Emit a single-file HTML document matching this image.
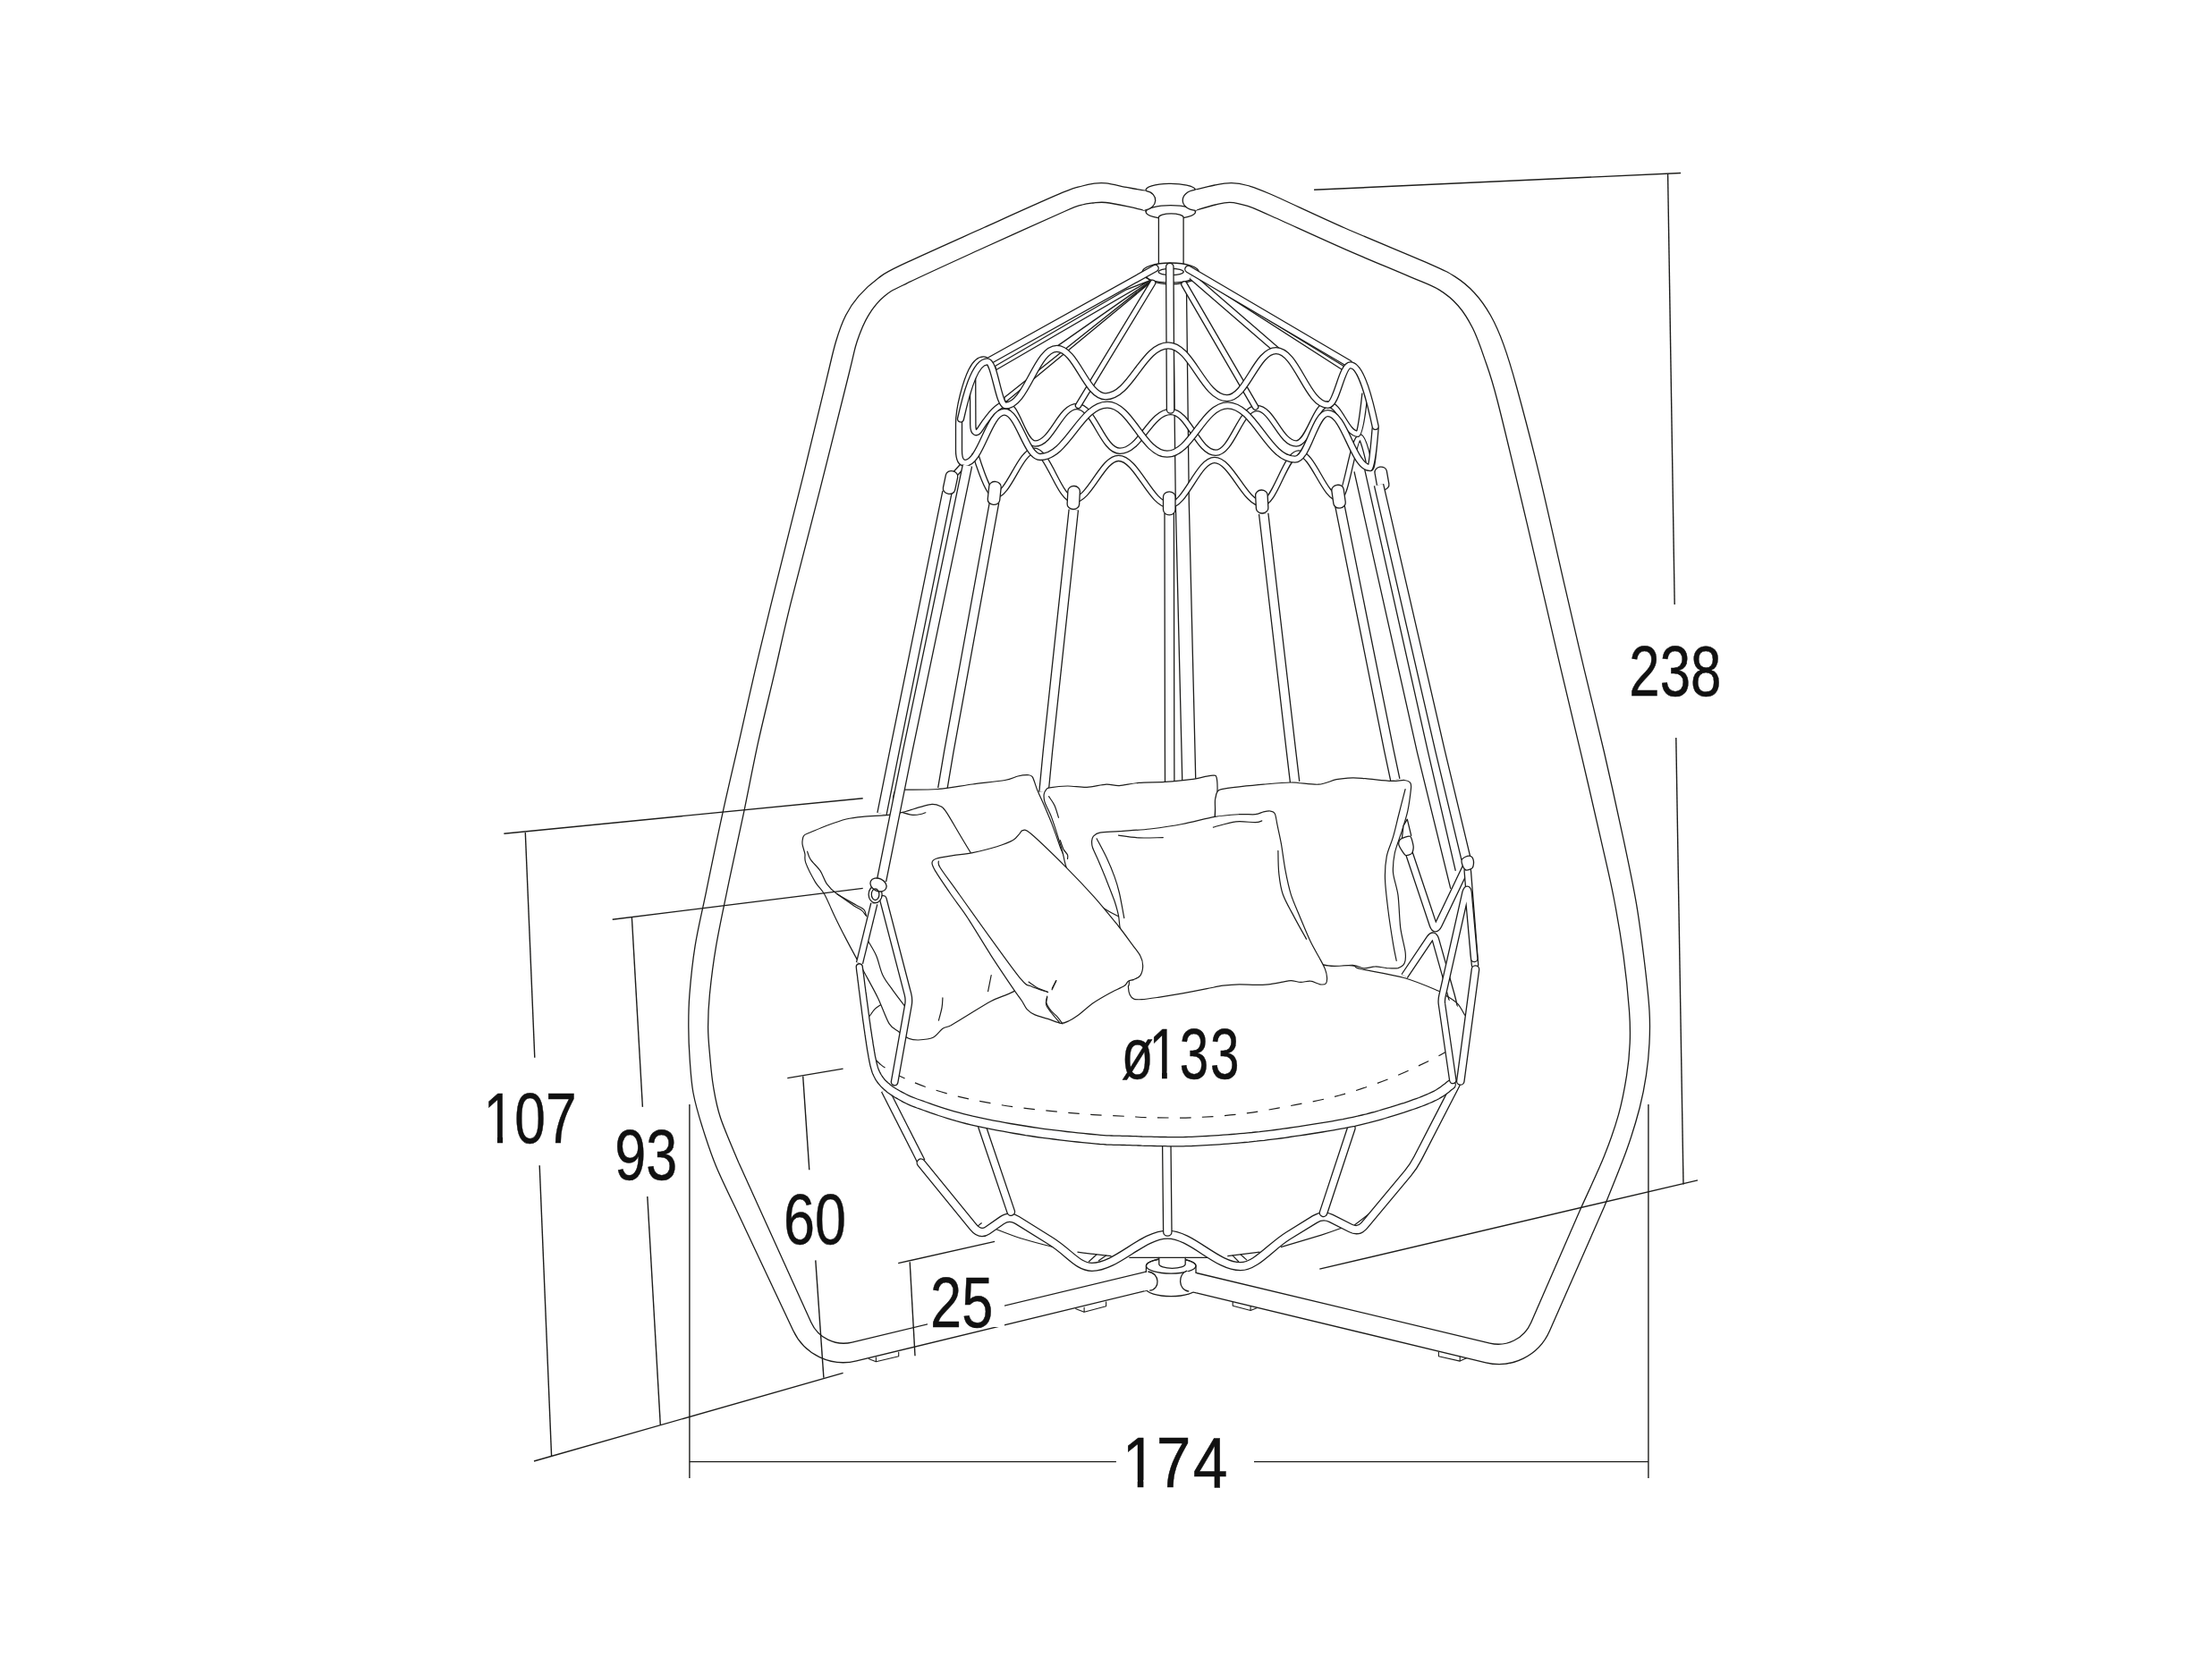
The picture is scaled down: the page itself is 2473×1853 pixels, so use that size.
<!DOCTYPE html>
<html lang="en"><head><meta charset="utf-8"><title>Hanging chair dimensions</title>
<style>html,body{margin:0;padding:0;background:#fff}body{width:2473px;height:1853px;overflow:hidden}svg{display:block}</style>
</head><body>
<svg xmlns="http://www.w3.org/2000/svg" width="2473" height="1853" viewBox="0 0 2473 1853">
<rect width="2473" height="1853" fill="#fff"/>
<path d="M1281 213.4 C1277.6 212.8 1268.2 211.1 1260.7 209.7 C1253.2 208.3 1242.8 205.6 1236.3 204.9 C1229.8 204.2 1226.4 204.8 1222 205.3 C1217.6 205.8 1215.5 206.3 1209.9 208 C1204.3 209.7 1206.5 207.4 1188.2 215.2 C1169.9 222.9 1130.2 240.9 1100 254.5 C1069.8 268.1 1026.7 287.2 1007 296.7 C987.3 306.1 989.5 305.5 981.7 311.2 C973.9 316.9 966 324.2 960 331.1 C954 338 949.7 344.4 945.5 352.8 C941.3 361.2 938.2 369.7 934.6 381.8 C931 393.9 929.8 400.6 923.8 425.3 C917.8 450.1 908.7 488.6 898.4 530.3 C888.1 571.9 871.2 638.6 862.2 675.2 C853.2 711.9 849.8 725.7 844.1 750.2 C838.4 774.7 833.8 795.9 827.8 822.4 C821.8 848.9 814.2 880.4 807.9 909.4 C801.5 938.4 794.8 971.5 789.7 996.3 C784.6 1021 780.2 1038.6 777.1 1057.9 C774 1077.2 772.1 1097.1 770.9 1112.2 C769.7 1127.3 769.8 1136.3 769.8 1148.4 C769.8 1160.5 770.3 1172.7 771.2 1185 C772.1 1197.3 772.7 1209.5 775 1222 C777.3 1234.5 780.8 1246.3 785.1 1260 C789.4 1273.7 793.8 1287.8 800.6 1304.3 C807.4 1320.8 821.8 1349.6 826 1358.7 L886.8 1488 A62 62 0 0 0 957.6 1521.9 L1285.2 1442.4" fill="none" stroke="#1d1d1b" stroke-width="1.3" stroke-linecap="butt" stroke-linejoin="round" />
<path d="M1279.5 235.4 C1276.4 234.7 1267.9 232.4 1260.7 230.9 C1253.5 229.4 1242.8 227.2 1236.3 226.5 C1229.8 225.8 1226.4 226.6 1222 227 C1217.6 227.4 1215.2 227.4 1209.9 229 C1204.6 230.6 1208.3 228.5 1190 236.5 C1171.7 244.5 1129.3 263.6 1100 277 C1070.7 290.4 1032.8 307.6 1014.3 316.6 C995.8 325.6 996.2 325.1 989 331.1 C981.8 337.1 975.9 344.4 970.8 352.8 C965.7 361.2 961.8 370.9 958.2 381.8 C954.6 392.7 956.1 390.2 949.1 418 C942.1 445.8 927.4 505.5 916.5 548.4 C905.6 591.3 892.2 641.6 883.9 675.2 C875.6 708.8 872.5 724.5 866.5 750.2 C860.5 776 853.6 803.2 847.7 829.7 C841.9 856.2 836.8 883.5 831.4 909.4 C826 935.3 820.2 960.6 815.1 985.4 C810 1010.1 804.2 1036.8 800.6 1057.9 C797 1079 794.9 1097.1 793.4 1112.2 C791.9 1127.3 791.6 1137.1 791.6 1148.4 C791.6 1159.7 792.6 1168.9 793.6 1180 C794.6 1191.1 795.5 1203.3 797.5 1215 C799.5 1226.7 800.8 1235.7 805.5 1250 C810.2 1264.3 822.6 1292.2 826 1300.6 L906.8 1478.7 A40 40 0 0 0 952.6 1501.1 L1283.4 1421.6" fill="none" stroke="#1d1d1b" stroke-width="1.3" stroke-linecap="butt" stroke-linejoin="round" />
<path d="M1336.5 212.2 C1340.1 211.3 1351.3 208.3 1358 207 C1364.7 205.7 1370.6 204.5 1376.8 204.6 C1383 204.7 1387.7 205.4 1394.9 207.5 C1402.1 209.6 1402.1 209.1 1420.2 217 C1438.3 224.9 1473.9 242 1503.5 255 C1533.1 268 1577.2 285.8 1597.7 294.9 C1618.2 304 1618.2 304 1626.7 309.4 C1635.2 314.8 1641.8 320.3 1648.4 327.5 C1655 334.7 1661.1 343.2 1666.5 352.8 C1671.9 362.4 1676.2 372.1 1681 385.4 C1685.8 398.7 1688.9 408.4 1695.5 432.5 C1702.1 456.6 1711.8 492.9 1720.8 530.3 C1729.8 567.7 1741.3 620.5 1749.8 657.1 C1758.2 693.7 1764.2 719.5 1771.5 750.1 C1778.8 780.7 1786 809.1 1793.3 840.5 C1800.5 871.9 1809 909.9 1815 938.3 C1821 966.7 1825.6 987.8 1829.5 1010.8 C1833.4 1033.8 1836.1 1056.1 1838.5 1076 C1840.9 1095.9 1843.1 1115.2 1844 1130.3 C1844.9 1145.4 1844.6 1154.4 1844 1166.5 C1843.4 1178.6 1842.2 1190.6 1840.4 1202.7 C1838.6 1214.8 1836.7 1225.1 1833.1 1239 C1829.5 1252.9 1825.2 1267.5 1818.6 1286 C1812 1304.5 1797.5 1339.4 1793.3 1350.1 L1732.4 1488.5 A62 62 0 0 1 1661.1 1523.8 L1329.3 1443.9" fill="none" stroke="#1d1d1b" stroke-width="1.3" stroke-linecap="butt" stroke-linejoin="round" />
<path d="M1336.5 235.4 C1340.2 234.3 1352.3 230.5 1358.7 229 C1365.1 227.5 1369 226.1 1375 226.3 C1381 226.5 1387.4 228 1394.9 230.4 C1402.4 232.8 1401.9 233 1420 241 C1438.1 249 1477.5 267.2 1503.5 278.6 C1529.5 290 1558.5 301.8 1576 309.4 C1593.5 316.9 1599.5 318.5 1608.6 323.9 C1617.6 329.3 1624 334.8 1630.3 342 C1636.6 349.2 1641.8 357.7 1646.6 367.3 C1651.4 376.9 1654.8 386.6 1659.3 399.9 C1663.8 413.2 1666.6 419.2 1673.8 447 C1681 474.8 1693.7 528.5 1702.7 566.5 C1711.8 604.5 1721 644.6 1728.1 675.2 C1735.2 705.8 1738.9 721.9 1745.5 750.1 C1752.1 778.3 1760.5 812.8 1767.9 844.2 C1775.3 875.6 1783.7 911.8 1789.7 938.3 C1795.7 964.8 1799.9 981.8 1804.1 1003.5 C1808.3 1025.2 1812.1 1047.6 1815 1068.7 C1817.9 1089.8 1820.3 1114 1821.5 1130.3 C1822.7 1146.6 1822.7 1154.4 1822.2 1166.5 C1821.7 1178.6 1820.7 1189.4 1818.6 1202.7 C1816.5 1216 1813.8 1231.1 1809.6 1246.2 C1805.4 1261.3 1800.2 1276 1793.3 1293.3 C1786.3 1310.6 1772.1 1340.6 1767.9 1350.1 L1711.6 1479.2 A40 40 0 0 1 1665.6 1502.1 L1327 1421" fill="none" stroke="#1d1d1b" stroke-width="1.3" stroke-linecap="butt" stroke-linejoin="round" />
<path d="M979.4 1517.5 L979.4 1522.7 L1004.7 1516.8 L1004.7 1511.8" fill="none" stroke="#1d1d1b" stroke-width="1.1" stroke-linecap="butt" stroke-linejoin="round" />
<path d="M971 1519.6 L979.4 1522.7" fill="none" stroke="#1d1d1b" stroke-width="1.1" stroke-linecap="butt" stroke-linejoin="round" />
<path d="M1212.1 1461.7 L1212.1 1467.3 L1236.6 1460.7 L1236.6 1455.4" fill="none" stroke="#1d1d1b" stroke-width="1.1" stroke-linecap="butt" stroke-linejoin="round" />
<path d="M1202.3 1463.5 L1212.1 1467.3" fill="none" stroke="#1d1d1b" stroke-width="1.1" stroke-linecap="butt" stroke-linejoin="round" />
<path d="M1378.2 1456.1 L1378.2 1460.3 L1398.1 1465.5 L1398.1 1461" fill="none" stroke="#1d1d1b" stroke-width="1.1" stroke-linecap="butt" stroke-linejoin="round" />
<path d="M1398.1 1465.5 L1405.6 1462.4" fill="none" stroke="#1d1d1b" stroke-width="1.1" stroke-linecap="butt" stroke-linejoin="round" />
<path d="M1608.4 1511.8 L1608.4 1516.8 L1632.2 1522.1 L1632.2 1516.8" fill="none" stroke="#1d1d1b" stroke-width="1.1" stroke-linecap="butt" stroke-linejoin="round" />
<path d="M1632.2 1522.1 L1639.6 1518.8" fill="none" stroke="#1d1d1b" stroke-width="1.1" stroke-linecap="butt" stroke-linejoin="round" />
<path d="M1295.4 240 L1323.1 240 L1323.1 296 L1295.4 296Z" fill="#fff" stroke="none"/>
<path d="M1281.1 213.4 L1281.1 237 A27.7 7.6 0 0 0 1336.5 237 L1336.5 212.2 A27.7 7.4 0 0 0 1281.1 213.4Z" fill="#fff" stroke="#1d1d1b" stroke-width="1.3" stroke-linejoin="round" stroke-linecap="round"/>
<path d="M1281.1 237 A27.7 7.3 0 0 1 1336.5 237" fill="none" stroke="#1d1d1b" stroke-width="1.3" stroke-linecap="butt" stroke-linejoin="round" />
<path d="M1281.1 213.4 C1295 216 1295 233 1279.5 235.4 L1273 231.5 L1273 214Z" fill="#fff" stroke="#1d1d1b" stroke-width="0" stroke-linejoin="round" stroke-linecap="round"/>
<path d="M1281.1 213.4 C1296 216 1295 233 1279.5 235.4" fill="none" stroke="#1d1d1b" stroke-width="1.3" stroke-linecap="butt" stroke-linejoin="round" />
<path d="M1336.5 212.2 C1318 215 1318 233 1336.5 235.4 L1343 231.5 L1343 213.5Z" fill="#fff" stroke="#1d1d1b" stroke-width="0" stroke-linejoin="round" stroke-linecap="round"/>
<path d="M1336.5 212.2 C1317 215 1318 234 1336.5 235.4" fill="none" stroke="#1d1d1b" stroke-width="1.3" stroke-linecap="butt" stroke-linejoin="round" />
<path d="M1295.4 243 A13.85 4.2 0 0 1 1323.1 243 L1323.1 296 L1295.4 296Z" fill="#fff" stroke="#1d1d1b" stroke-width="1.3" stroke-linejoin="round" stroke-linecap="round"/>
<path d="M1281.4 1415.6 L1281.4 1441 A27.8 8.6 0 0 0 1337 1441 L1337 1415.6 A27.8 8.6 0 0 0 1281.4 1415.6Z" fill="#fff" stroke="#1d1d1b" stroke-width="1.3" stroke-linejoin="round" stroke-linecap="round"/>
<path d="M1281.4 1415.6 A27.8 8.6 0 0 0 1337 1415.6" fill="none" stroke="#1d1d1b" stroke-width="1.3" stroke-linecap="butt" stroke-linejoin="round" />
<path d="M1281.4 1415.6 A27.8 8.6 0 0 1 1337 1415.6" fill="none" stroke="#1d1d1b" stroke-width="1.3" stroke-linecap="butt" stroke-linejoin="round" />
<path d="M1295.8 1406.4 L1295.8 1413.5 A14.7 4.8 0 0 0 1325.2 1413.5 L1325.2 1406.4" fill="#fff" stroke="#1d1d1b" stroke-width="1.3" stroke-linejoin="round" stroke-linecap="round"/>
<path d="M1279 1423.4 L1283.4 1422.6 C1296.5 1424 1297 1441.5 1285.2 1442.6 L1279 1443.4Z" fill="#fff" stroke="none"/>
<path d="M1283.4 1422 C1297 1423.5 1297.5 1442 1285.2 1443.2" fill="none" stroke="#1d1d1b" stroke-width="1.3" stroke-linecap="butt" stroke-linejoin="round" />
<path d="M1338 1424.3 L1327 1421.8 C1317.5 1424.5 1317 1442 1329.3 1443.6 L1338 1445.2Z" fill="#fff" stroke="none"/>
<path d="M1327 1421.2 C1317 1424 1316.5 1442.5 1329.3 1444.2" fill="none" stroke="#1d1d1b" stroke-width="1.3" stroke-linecap="butt" stroke-linejoin="round" />
<path d="M1319 322 L1321.8 562 L1328.5 840 L1330 905" fill="none" stroke="#1d1d1b" stroke-width="16.3" stroke-linecap="butt" stroke-linejoin="round"/>
<path d="M1319 322 L1321.8 562 L1328.5 840 L1330 905" fill="none" stroke="#fff" stroke-width="13.7" stroke-linecap="butt" stroke-linejoin="round"/>
<path d="M1059 550 L1000 840 L986 910" fill="none" stroke="#1d1d1b" stroke-width="11.7" stroke-linecap="butt" stroke-linejoin="round"/>
<path d="M1059 550 L1000 840 L986 910" fill="none" stroke="#fff" stroke-width="9.1" stroke-linecap="butt" stroke-linejoin="round"/>
<path d="M1111.6 561.7 L1060.9 840 L1053.8 882" fill="none" stroke="#1d1d1b" stroke-width="11.7" stroke-linecap="butt" stroke-linejoin="round"/>
<path d="M1111.6 561.7 L1060.9 840 L1053.8 882" fill="none" stroke="#fff" stroke-width="9.1" stroke-linecap="butt" stroke-linejoin="round"/>
<path d="M1200.3 570 L1171.4 840 L1167 886" fill="none" stroke="#1d1d1b" stroke-width="11.7" stroke-linecap="butt" stroke-linejoin="round"/>
<path d="M1200.3 570 L1171.4 840 L1167 886" fill="none" stroke="#fff" stroke-width="9.1" stroke-linecap="butt" stroke-linejoin="round"/>
<path d="M1307.2 574 L1307.6 840 L1307.8 905" fill="none" stroke="#1d1d1b" stroke-width="11.7" stroke-linecap="butt" stroke-linejoin="round"/>
<path d="M1307.2 574 L1307.6 840 L1307.8 905" fill="none" stroke="#fff" stroke-width="9.1" stroke-linecap="butt" stroke-linejoin="round"/>
<path d="M1412.7 574.4 L1443.5 840 L1447.6 874.5" fill="none" stroke="#1d1d1b" stroke-width="11.7" stroke-linecap="butt" stroke-linejoin="round"/>
<path d="M1412.7 574.4 L1443.5 840 L1447.6 874.5" fill="none" stroke="#fff" stroke-width="9.1" stroke-linecap="butt" stroke-linejoin="round"/>
<path d="M1497.8 565 L1553 840 L1559.8 872" fill="none" stroke="#1d1d1b" stroke-width="11.7" stroke-linecap="butt" stroke-linejoin="round"/>
<path d="M1497.8 565 L1553 840 L1559.8 872" fill="none" stroke="#fff" stroke-width="9.1" stroke-linecap="butt" stroke-linejoin="round"/>
<path d="M1090 506 C1090 506 1104.1 554 1112 554 C1127.9 554 1140.3 504.2 1156.2 504.2 C1172.1 504.2 1184.4 559 1200.3 559 C1218.4 559 1232.4 512.4 1250.5 512.4 C1270.9 512.4 1286.9 565 1307.3 565 C1325.5 565 1339.6 514.5 1357.8 514.5 C1376.8 514.5 1391.6 563 1410.6 563 C1425.5 563 1437.1 507 1452 507 C1468.1 507 1480.6 557 1496.7 557 C1505.4 557 1512.3 489 1521 489 C1524.6 489 1531 520 1531 520" fill="none" stroke="#1d1d1b" stroke-width="7.5" stroke-linecap="butt" stroke-linejoin="round"/>
<path d="M1090 506 C1090 506 1104.1 554 1112 554 C1127.9 554 1140.3 504.2 1156.2 504.2 C1172.1 504.2 1184.4 559 1200.3 559 C1218.4 559 1232.4 512.4 1250.5 512.4 C1270.9 512.4 1286.9 565 1307.3 565 C1325.5 565 1339.6 514.5 1357.8 514.5 C1376.8 514.5 1391.6 563 1410.6 563 C1425.5 563 1437.1 507 1452 507 C1468.1 507 1480.6 557 1496.7 557 C1505.4 557 1512.3 489 1521 489 C1524.6 489 1531 520 1531 520" fill="none" stroke="#fff" stroke-width="4.9" stroke-linecap="butt" stroke-linejoin="round"/>
<path d="M1077 520 L1066 532" fill="none" stroke="#1d1d1b" stroke-width="7.3" stroke-linecap="butt" stroke-linejoin="round"/>
<path d="M1077 520 L1066 532" fill="none" stroke="#fff" stroke-width="4.7" stroke-linecap="butt" stroke-linejoin="round"/>
<path d="M1087.6 422 L1087.8 475 C1087.8 485 1092 486 1096 479.5 C1096 479.5 1112.8 452 1124 452 C1137.3 452 1144 496 1157.3 496 C1176 496 1185.3 454.5 1204 454.5 C1223.2 454.5 1232.8 504.3 1252 504.3 C1274.8 504.3 1286.1 460.5 1308.9 460.5 C1329 460.5 1339.1 506.3 1359.2 506.3 C1377.5 506.3 1386.7 456.5 1405 456.5 C1422.6 456.5 1431.5 496 1449.1 496 C1463.3 496 1470.3 452 1484.5 452 C1498.1 452 1504.8 485.2 1518.4 485.2 C1521.4 485.2 1526 440 1526 440" fill="none" stroke="#1d1d1b" stroke-width="7.5" stroke-linecap="butt" stroke-linejoin="round"/>
<path d="M1087.6 422 L1087.8 475 C1087.8 485 1092 486 1096 479.5 C1096 479.5 1112.8 452 1124 452 C1137.3 452 1144 496 1157.3 496 C1176 496 1185.3 454.5 1204 454.5 C1223.2 454.5 1232.8 504.3 1252 504.3 C1274.8 504.3 1286.1 460.5 1308.9 460.5 C1329 460.5 1339.1 506.3 1359.2 506.3 C1377.5 506.3 1386.7 456.5 1405 456.5 C1422.6 456.5 1431.5 496 1449.1 496 C1463.3 496 1470.3 452 1484.5 452 C1498.1 452 1504.8 485.2 1518.4 485.2 C1521.4 485.2 1526 440 1526 440" fill="none" stroke="#fff" stroke-width="4.9" stroke-linecap="butt" stroke-linejoin="round"/>
<rect x="1055.8" y="526.5" width="13.5" height="26" rx="6.8" ry="5.7" fill="#fff" stroke="#1d1d1b" stroke-width="1.3" transform="rotate(12 1062.5 539.5)"/>
<rect x="1105" y="538.5" width="13.5" height="26" rx="6.8" ry="5.7" fill="#fff" stroke="#1d1d1b" stroke-width="1.3" transform="rotate(6 1111.8 551.5)"/>
<rect x="1193.5" y="543.5" width="13.5" height="26" rx="6.8" ry="5.7" fill="#fff" stroke="#1d1d1b" stroke-width="1.3" transform="rotate(3 1200.3 556.5)"/>
<rect x="1300.5" y="549.8" width="13.5" height="26" rx="6.8" ry="5.7" fill="#fff" stroke="#1d1d1b" stroke-width="1.3"/>
<rect x="1404" y="548" width="13.5" height="26" rx="6.8" ry="5.7" fill="#fff" stroke="#1d1d1b" stroke-width="1.3" transform="rotate(-3 1410.7 561)"/>
<rect x="1489.8" y="542.2" width="13.5" height="26" rx="6.8" ry="5.7" fill="#fff" stroke="#1d1d1b" stroke-width="1.3" transform="rotate(-8 1496.6 555.2)"/>
<path d="M1276.7 305 A32 11 0 0 1 1340.7 305 L1334.1 313.3 Q1309.5 322 1285.8 313.8Z" fill="#fff" stroke="#1d1d1b" stroke-width="1.3" stroke-linejoin="round" stroke-linecap="round"/>
<path d="M1276.7 305 A32 11 0 0 0 1340.7 305" fill="none" stroke="#1d1d1b" stroke-width="1.3" stroke-linecap="butt" stroke-linejoin="round" />
<ellipse cx="1309.2" cy="304" rx="14" ry="3.6" fill="#fff" stroke="#1d1d1b" stroke-width="1.3"/>
<path d="M1285.2 313.9 L1259.3 323.8 L1112.4 409.5 L1113.9 413.5Z" fill="#fff" stroke="#1d1d1b" stroke-width="1.3" stroke-linejoin="round" stroke-linecap="round"/>
<path d="M1340 310 L1354.3 319.4 L1501 413.8 L1502.4 409.5Z" fill="#fff" stroke="#1d1d1b" stroke-width="1.3" stroke-linejoin="round" stroke-linecap="round"/>
<path d="M1285.8 314.5 L1182.6 386.6" fill="none" stroke="#1d1d1b" stroke-width="1.3" stroke-linecap="butt" stroke-linejoin="round" />
<path d="M1286.2 314.6 L1123.2 444.2 L1122.5 447 L1124.5 449.5 L1287 315.2Z" fill="#fff" stroke="#1d1d1b" stroke-width="1.3" stroke-linejoin="round" stroke-linecap="round"/>
<path d="M1332 309 L1428 392" fill="none" stroke="#1d1d1b" stroke-width="7.9" stroke-linecap="butt" stroke-linejoin="round"/>
<path d="M1332 309 L1428 392" fill="none" stroke="#fff" stroke-width="5.3" stroke-linecap="butt" stroke-linejoin="round"/>
<path d="M1288.7 316.4 L1205.5 453.5" fill="none" stroke="#1d1d1b" stroke-width="7.5" stroke-linecap="round" stroke-linejoin="round"/>
<path d="M1288.7 316.4 L1205.5 453.5" fill="none" stroke="#fff" stroke-width="4.9" stroke-linecap="round" stroke-linejoin="round"/>
<path d="M1324 318 L1403.5 455" fill="none" stroke="#1d1d1b" stroke-width="7.7" stroke-linecap="round" stroke-linejoin="round"/>
<path d="M1324 318 L1403.5 455" fill="none" stroke="#fff" stroke-width="5.1" stroke-linecap="round" stroke-linejoin="round"/>
<path d="M1291.5 300 L1105 404" fill="none" stroke="#1d1d1b" stroke-width="8.7" stroke-linecap="round" stroke-linejoin="round"/>
<path d="M1291.5 300 L1105 404" fill="none" stroke="#fff" stroke-width="6.1" stroke-linecap="round" stroke-linejoin="round"/>
<path d="M1328.5 301 L1508 406.5" fill="none" stroke="#1d1d1b" stroke-width="8.7" stroke-linecap="round" stroke-linejoin="round"/>
<path d="M1328.5 301 L1508 406.5" fill="none" stroke="#fff" stroke-width="6.1" stroke-linecap="round" stroke-linejoin="round"/>
<path d="M1307.8 298.5 L1308.6 458" fill="none" stroke="#1d1d1b" stroke-width="9.7" stroke-linecap="round" stroke-linejoin="round"/>
<path d="M1307.8 298.5 L1308.6 458" fill="none" stroke="#fff" stroke-width="7.1" stroke-linecap="round" stroke-linejoin="round"/>
<path d="M1101 402.5 C1089 400.5 1081.5 424 1076.8 442 C1074 453 1072 463 1072 474 L1072 503 C1072 513 1074 517.8 1079 517.8 C1096.6 517.8 1105.3 460.7 1122.9 460.7 C1138.9 460.7 1147 511 1163 511 C1193 511 1208 452.6 1238 452.6 C1264.7 452.6 1278.1 507.7 1304.8 507.7 C1331.9 507.7 1345.4 453.3 1372.5 453.3 C1402.6 453.3 1417.7 513.7 1447.8 513.7 C1462.5 513.7 1469.8 462.1 1484.5 462.1 C1503.5 462.1 1513 523.2 1532 523.2 C1534.2 523.2 1537.6 479.5 1537.6 479.5" fill="none" stroke="#1d1d1b" stroke-width="8.3" stroke-linecap="round" stroke-linejoin="round"/>
<path d="M1101 402.5 C1089 400.5 1081.5 424 1076.8 442 C1074 453 1072 463 1072 474 L1072 503 C1072 513 1074 517.8 1079 517.8 C1096.6 517.8 1105.3 460.7 1122.9 460.7 C1138.9 460.7 1147 511 1163 511 C1193 511 1208 452.6 1238 452.6 C1264.7 452.6 1278.1 507.7 1304.8 507.7 C1331.9 507.7 1345.4 453.3 1372.5 453.3 C1402.6 453.3 1417.7 513.7 1447.8 513.7 C1462.5 513.7 1469.8 462.1 1484.5 462.1 C1503.5 462.1 1513 523.2 1532 523.2 C1534.2 523.2 1537.6 479.5 1537.6 479.5" fill="none" stroke="#fff" stroke-width="5.7" stroke-linecap="round" stroke-linejoin="round"/>
<path d="M1074 468.5 C1079 446 1089 404.3 1103.8 404.3 C1112.1 404.3 1116.2 453.5 1124.5 453.5 C1147.3 453.5 1158.7 389.8 1181.5 389.8 C1203.3 389.8 1214.2 443.3 1236 443.3 C1264 443.3 1278 386.3 1306 386.3 C1332.3 386.3 1345.4 445.1 1371.7 445.1 C1393.7 445.1 1404.6 392.1 1426.6 392.1 C1449.8 392.1 1461.4 452.8 1484.6 452.8 C1494.7 452.8 1499.7 408.3 1509.8 408.3 C1522 408.3 1532 450 1537.7 476.9" fill="none" stroke="#1d1d1b" stroke-width="8.3" stroke-linecap="round" stroke-linejoin="round"/>
<path d="M1074 468.5 C1079 446 1089 404.3 1103.8 404.3 C1112.1 404.3 1116.2 453.5 1124.5 453.5 C1147.3 453.5 1158.7 389.8 1181.5 389.8 C1203.3 389.8 1214.2 443.3 1236 443.3 C1264 443.3 1278 386.3 1306 386.3 C1332.3 386.3 1345.4 445.1 1371.7 445.1 C1393.7 445.1 1404.6 392.1 1426.6 392.1 C1449.8 392.1 1461.4 452.8 1484.6 452.8 C1494.7 452.8 1499.7 408.3 1509.8 408.3 C1522 408.3 1532 450 1537.7 476.9" fill="none" stroke="#fff" stroke-width="5.7" stroke-linecap="round" stroke-linejoin="round"/>
<path d="M1570.2 1091.6 L1598.3 1049.8 Q1602.8 1043.2 1605 1050.9 L1622.3 1112.3 Q1624.5 1120 1625.9 1127.9 L1630 1150" fill="none" stroke="#1d1d1b" stroke-width="8.8" stroke-linecap="butt" stroke-linejoin="round"/>
<path d="M1570.2 1091.6 L1598.3 1049.8 Q1602.8 1043.2 1605 1050.9 L1622.3 1112.3 Q1624.5 1120 1625.9 1127.9 L1630 1150" fill="none" stroke="#fff" stroke-width="6.2" stroke-linecap="butt" stroke-linejoin="round"/>
<path d="M968 1144.5 C968.3 1142.3 968.6 1139.2 969.8 1136.6 C971.1 1133.9 972.9 1131.3 975.3 1128.7 C977.8 1126.1 980.8 1123.5 984.4 1121 C988.1 1118.5 992.3 1116 997 1113.6 C1001.8 1111.2 1007.2 1108.8 1013 1106.5 C1018.9 1104.2 1025.3 1102 1032.2 1099.8 C1039.1 1097.7 1046.5 1095.6 1054.3 1093.6 C1062.1 1091.7 1070.5 1089.8 1079.2 1088 C1087.9 1086.2 1097 1084.6 1106.5 1083 C1116 1081.5 1125.9 1080 1136 1078.7 C1146.1 1077.4 1156.6 1076.1 1167.3 1075.1 C1178 1074 1189 1073 1200.2 1072.2 C1211.3 1071.4 1222.7 1070.7 1234.1 1070.2 C1245.6 1069.6 1257.2 1069.2 1268.9 1068.9 C1280.5 1068.6 1292.3 1068.5 1304 1068.5 C1315.7 1068.5 1327.5 1068.6 1339.1 1068.9 C1350.8 1069.2 1362.4 1069.6 1373.9 1070.2 C1385.3 1070.7 1396.7 1071.4 1407.8 1072.2 C1419 1073 1430 1074 1440.7 1075.1 C1451.4 1076.1 1461.9 1077.4 1472 1078.7 C1482.1 1080 1492 1081.5 1501.5 1083 C1511 1084.6 1520.1 1086.2 1528.8 1088 C1537.5 1089.8 1545.9 1091.7 1553.7 1093.6 C1561.5 1095.6 1568.9 1097.7 1575.8 1099.8 C1582.7 1102 1589.1 1104.2 1595 1106.5 C1600.8 1108.8 1606.2 1111.2 1611 1113.6 C1615.7 1116 1619.9 1118.5 1623.6 1121 C1627.2 1123.5 1630.2 1126.1 1632.7 1128.7 C1635.1 1131.3 1636.9 1133.9 1638.2 1136.6 C1639.4 1139.2 1639.7 1140.6 1640 1144.5 C1640.3 1148.4 1641 1152.4 1640 1160 C1639 1167.6 1636.9 1181.2 1634 1190 C1631.1 1198.8 1627.5 1206.7 1622.5 1212.6 C1617.5 1218.5 1613.1 1221 1604 1225.4 C1594.9 1229.9 1582.9 1234.5 1567.8 1239.3 C1552.7 1244.1 1534.6 1249.8 1513.5 1254.3 C1492.4 1258.8 1462.2 1263.4 1441.1 1266.5 C1420 1269.6 1404.9 1271.1 1386.8 1272.8 C1368.7 1274.5 1346.9 1275.8 1332.4 1276.4 C1317.9 1277 1312.1 1276.8 1300 1276.6 C1287.9 1276.4 1272.3 1275.9 1260 1275.5 C1247.7 1275.1 1243.7 1275.7 1225.9 1274 C1208.2 1272.3 1177.6 1269.2 1153.5 1265.5 C1129.4 1261.8 1102.2 1256.9 1081.1 1251.7 C1060 1246.5 1039.5 1239 1026.8 1234.5 C1014.1 1230 1011 1227.8 1005 1224.5 C999 1221.2 994.4 1218 990.5 1214.5 C986.6 1211 983.9 1207.9 981.5 1203.5 C979.1 1199.1 977.7 1193.9 976.1 1188.3 C974.5 1182.7 973.4 1176.4 972 1170 C970.6 1163.6 968.7 1154.2 968 1150 C967.3 1145.8 967.7 1146.7 968 1144.5Z" fill="#fff" stroke="#1d1d1b" stroke-width="0" stroke-linejoin="round" stroke-linecap="round"/>
<path d="M972.4 1136 C973.3 1134.8 975.9 1130.6 977.9 1128.6 C979.9 1126.6 981.4 1125.9 984.2 1124 C987.1 1122.1 993.2 1118.2 995 1117" fill="none" stroke="#1d1d1b" stroke-width="1.2" stroke-linecap="round" stroke-linejoin="round" />
<path d="M1479.2 1079 C1484.6 1079.2 1504.9 1079.2 1511.8 1079.9 C1518.7 1080.7 1511.1 1081.2 1520.8 1083.5 C1530.5 1085.8 1555.2 1089.4 1569.7 1093.5 C1584.2 1097.6 1600 1104.7 1607.8 1108 C1615.6 1111.3 1613.2 1111 1616.8 1113.4 C1620.4 1115.8 1626 1118.8 1629.5 1122.4 C1633 1126 1636.2 1133 1637.6 1135.1" fill="none" stroke="#1d1d1b" stroke-width="1.2" stroke-linecap="round" stroke-linejoin="round" />
<path d="M978 1184 C979 1185 981.9 1188.2 984 1190 C986.1 1191.8 986.7 1192.4 990.5 1194.7 C994.3 1197 999.4 1200.2 1006.8 1203.7 C1014.2 1207.2 1024 1211.7 1034.9 1215.5 C1045.8 1219.3 1059.6 1223.2 1072 1226.3 C1084.4 1229.4 1096.8 1231.8 1109.2 1234 C1121.6 1236.2 1133.8 1237.8 1146.3 1239.4 C1158.8 1241 1171.6 1242.2 1184.3 1243.4 C1197 1244.6 1209.6 1245.8 1222.3 1246.6 C1235 1247.4 1249.7 1247.9 1260.3 1248.4 C1270.9 1248.9 1273.4 1249.5 1285.7 1249.7 C1298 1249.9 1317.2 1250.4 1334.3 1249.7 C1351.4 1249 1370.5 1247.8 1388.6 1245.6 C1406.7 1243.4 1424.9 1239.9 1443 1236.5 C1461.1 1233.1 1479.2 1229.9 1497.3 1225 C1515.4 1220.1 1535 1213.4 1551.6 1207 C1568.2 1200.6 1585.7 1192 1596.9 1186.7 C1608.1 1181.4 1615 1177 1618.6 1175" fill="none" stroke="#1d1d1b" stroke-width="1.2" stroke-linecap="butt" stroke-linejoin="round" stroke-dasharray="12.5 12.5" stroke-dashoffset="-3"/>
<path d="M999.5 887.4 C999.9 884.7 1000.4 884.4 1002.2 883.7 C1004 883.1 1004.3 883.4 1011.2 883.2 C1018.2 883 1037 883.4 1048.4 882.5 C1059.8 881.5 1076 878.5 1087.3 877 C1098.6 875.5 1115.9 873.9 1123.5 872.5 C1131.1 871.2 1134.2 868.9 1138 868 C1141.8 867.1 1146.4 866.6 1148.9 866.7 C1151.3 866.9 1152.7 866.4 1154.3 868.9 C1155.9 871.4 1157.8 878.8 1159.7 883.4 C1161.6 888 1164.5 894 1167 899.7 C1169.4 905.4 1173.3 914.3 1176 921.4 C1178.7 928.5 1182.5 939.1 1185.1 946.8 C1187.7 954.4 1194.3 964 1193.2 972.1 C1192.1 980.3 1193.7 999.4 1177.8 1001.1 C1161.9 1002.7 1111.7 991.1 1087.3 983 C1062.8 974.8 1028 959 1014.9 946.8 C1001.7 934.5 1001.8 910.4 999.5 901.5 C997.2 892.6 999.1 890 999.5 887.4Z" fill="#fff" stroke="#1d1d1b" stroke-width="1.2" stroke-linejoin="round" stroke-linecap="round"/>
<path d="M1172.4 889.7 C1173.3 891.1 1176 893.8 1177.8 897.9 C1179.6 901.9 1182.4 911.4 1183.3 914.2" fill="none" stroke="#1d1d1b" stroke-width="1.2" stroke-linecap="round" stroke-linejoin="round" />
<path d="M1186 939.5 C1186.7 941.3 1189.1 947.1 1190.5 950.4 C1191.9 953.7 1193.7 955.8 1194.1 959.4 C1194.6 963.1 1193.4 970 1193.2 972.1" fill="none" stroke="#1d1d1b" stroke-width="1.2" stroke-linecap="round" stroke-linejoin="round" />
<path d="M1167.2 888 C1167.5 885.9 1169 883.7 1169.9 882.6 C1170.9 881.5 1170 881.3 1173.5 880.8 C1177.1 880.2 1187.2 879 1193.5 879 C1199.7 878.9 1208.7 880.7 1215.2 880.4 C1221.7 880.1 1231.5 877.4 1236.9 877.2 C1242.3 876.9 1246 878.9 1251.4 878.6 C1256.8 878.3 1265.5 876 1273.1 875.4 C1280.7 874.7 1293.4 875 1302.1 874.4 C1310.8 873.9 1324 872.7 1331.1 871.7 C1338.1 870.8 1345.4 868.8 1349.2 868.1 C1353 867.4 1354.8 867.1 1356.4 867.2 C1358.1 867.3 1359.4 866.4 1360 869 C1360.7 871.6 1361.1 880.7 1361 884.4 C1360.8 888.1 1359.6 888.7 1359.1 893.5 C1358.7 898.2 1358.4 903.6 1358.2 916.1 C1358.1 928.6 1370.5 959.5 1358.2 976.8 C1346 994 1299.8 1028.4 1276.8 1031.1 C1253.7 1033.8 1217 1003.8 1204.3 994.9 C1191.7 985.9 1195 977.6 1192.6 971.3 C1190.1 965.1 1189.5 958.6 1188 953.2 C1186.5 947.8 1184.5 941.1 1182.6 935.1 C1180.7 929.1 1177.5 919.1 1175.4 913.4 C1173.2 907.7 1169.3 900.9 1168.1 897.1 C1166.9 893.3 1166.9 890.2 1167.2 888Z" fill="#fff" stroke="#1d1d1b" stroke-width="1.2" stroke-linejoin="round" stroke-linecap="round"/>
<path d="M1172.6 890.7 C1173.7 892.4 1177.2 896.8 1179 900.7 C1180.8 904.6 1182.7 912 1183.5 914.3" fill="none" stroke="#1d1d1b" stroke-width="1.2" stroke-linecap="round" stroke-linejoin="round" />
<path d="M1185.3 939.6 C1185.9 941.3 1187.6 946.9 1188.9 949.6 C1190.3 952.3 1192.7 954.1 1193.5 955.9 C1194.2 957.7 1193.5 959.7 1193.5 960.5" fill="none" stroke="#1d1d1b" stroke-width="1.2" stroke-linecap="round" stroke-linejoin="round" />
<path d="M1358.6 904.3 C1357.9 890.6 1358.8 894.5 1359.1 891.6 C1359.5 888.8 1360 886.7 1361 885.3 C1361.9 884 1361.8 883.4 1365.5 882.6 C1369.1 881.8 1378.3 880.7 1385.4 879.9 C1392.5 879.1 1403.9 877.9 1412.6 877.2 C1421.3 876.4 1434.1 875 1443.3 875 C1452.6 875 1466.5 877.7 1474.1 877.2 C1481.7 876.7 1488.3 872.8 1494 871.7 C1499.8 870.6 1507.2 870.1 1512.2 869.9 C1517.1 869.8 1520.2 870.2 1526.8 870.7 C1533.3 871.2 1549.2 873.1 1555.7 873.4 C1562.2 873.7 1567.1 872.2 1570.2 872.5 C1573.3 872.8 1575.5 873.9 1576.6 875.2 C1577.6 876.6 1577.9 876.8 1577.5 881.6 C1577 886.3 1575.3 899.9 1573.8 906.9 C1572.3 914 1569.7 921.6 1567.5 928.6 C1565.3 935.7 1560.8 946.9 1559.3 954 C1557.9 961.1 1557 968.7 1557.5 975.7 C1558.1 982.8 1561.7 991.8 1563 1001.1 C1564.2 1010.3 1564.5 1027.8 1565.7 1037.3 C1566.9 1046.8 1570.4 1058.5 1571.1 1064.5 C1571.8 1070.4 1571.4 1074.4 1570.2 1077.1 C1569 1079.8 1566 1081.7 1563 1082.6 C1560 1083.4 1554.1 1082.8 1550.3 1082.6 C1546.5 1082.3 1541.4 1080.7 1537.6 1080.8 C1533.8 1080.8 1528.7 1083.1 1524.9 1082.9 C1521.1 1082.7 1519.1 1079.9 1512.3 1079.3 C1505.5 1078.7 1491.1 1082.5 1479.7 1078.9 C1468.3 1075.4 1453.6 1069.8 1436.2 1055.4 C1418.8 1041 1375.4 1005.6 1363.8 983 C1352.1 960.3 1359.3 918 1358.6 904.3Z" fill="#fff" stroke="#1d1d1b" stroke-width="1.2" stroke-linejoin="round" stroke-linecap="round"/>
<path d="M1571.1 882.5 C1569.9 887.1 1566.1 901.6 1563.9 910.5 C1561.6 919.4 1559.8 928 1557.5 935.9 C1555.3 943.7 1551.8 949.8 1550.3 957.6 C1548.8 965.5 1548.2 972.7 1548.5 983 C1548.8 993.2 1550.6 1007.1 1552.1 1019.2 C1553.6 1031.3 1556 1046.2 1557.5 1055.4 C1559 1064.6 1560.6 1071.2 1561.2 1074.4" fill="none" stroke="#1d1d1b" stroke-width="1.2" stroke-linecap="round" stroke-linejoin="round" />
<path d="M897.2 944.9 C896.8 942.6 896.9 941.1 897.2 939.5 C897.4 937.9 897.6 935.4 899 934.1 C900.3 932.8 902.4 932.4 906.2 930.8 C910 929.2 918.3 925.4 924.3 923.2 C930.3 921 940.1 917.5 946.1 916 C952 914.5 957.1 913.9 964.2 913.3 C971.2 912.6 986.6 912.1 993.1 911.4 C999.7 910.8 1002.2 910.1 1007.6 908.7 C1013.1 907.4 1024.2 903.8 1029.3 902.4 C1034.5 901 1038.8 899.4 1042 899.3 C1045.3 899.2 1048.6 900.1 1051.1 901.5 C1053.5 902.9 1053.2 900.9 1058.3 908.7 C1063.5 916.6 1073.2 934.3 1085.5 954 C1097.7 973.7 1127 1019.9 1140 1040 C1153 1060.1 1173 1077.7 1172 1088 C1171 1098.3 1143.2 1103.9 1133.6 1108.6 C1124 1113.4 1116.1 1115.4 1108.2 1119.5 C1100.4 1123.6 1087.9 1131.7 1081.1 1135.8 C1074.3 1139.9 1067 1144.5 1063 1146.7 C1058.9 1148.8 1056.9 1148.3 1053.9 1150.3 C1050.9 1152.3 1047.1 1158.4 1043.1 1160.3 C1039 1162.2 1030.8 1162.8 1026.8 1163 C1022.7 1163.1 1019.1 1162.5 1015.9 1161.2 C1012.6 1159.8 1008.3 1156.4 1005 1153.9 C1001.8 1151.5 997.7 1150.6 994.2 1144.9 C990.6 1139.2 985.6 1124.3 981.5 1115.9 C977.4 1107.5 970.5 1095.2 967 1088.7 C963.5 1082.2 961.2 1078.4 957.9 1072.4 C954.7 1066.5 949.1 1056.2 945.3 1048.9 C941.5 1041.6 936.1 1030.9 932.6 1023.5 C929.1 1016.2 924.9 1005.5 921.7 1000 C918.6 994.5 914.8 991.9 911.6 986.6 C908.5 981.3 902.5 969.6 900.8 964.9 C899 960.1 900.4 957.9 899.9 954.9 C899.3 951.9 897.6 947.3 897.2 944.9Z" fill="#fff" stroke="#1d1d1b" stroke-width="1.2" stroke-linejoin="round" stroke-linecap="round"/>
<path d="M902.6 952.2 C903.2 953.7 903.8 957.6 906.2 961.2 C908.6 964.9 914.1 969.4 917.1 973.9 C920.1 978.4 921.3 984.2 924.3 988.4 C927.3 992.6 929.8 995.3 935.2 999.3 C940.6 1003.2 951.8 1008.9 956.9 1011.9 C962 1015 964 1015.3 966 1017.4 C967.9 1019.5 968.2 1023.4 968.7 1024.6" fill="none" stroke="#1d1d1b" stroke-width="1.2" stroke-linecap="round" stroke-linejoin="round" />
<path d="M936.2 1000 C939.2 1002.1 949.8 1009.7 954.3 1012.7 C958.9 1015.7 961.1 1016.3 963.4 1018.1 C965.6 1019.9 967.1 1022.6 967.9 1023.5" fill="none" stroke="#1d1d1b" stroke-width="1.2" stroke-linecap="round" stroke-linejoin="round" />
<path d="M970.6 1052.5 C972.1 1055.2 977 1062.5 979.7 1068.8 C982.4 1075.1 983.9 1084.2 986.9 1090.5 C989.9 1096.9 993.7 1101.1 997.8 1106.8 C1001.9 1112.6 1009.1 1121.9 1011.4 1124.9" fill="none" stroke="#1d1d1b" stroke-width="1.2" stroke-linecap="round" stroke-linejoin="round" />
<path d="M1009.4 908.7 C1011.2 909.2 1017 911.1 1020.3 911.4 C1023.6 911.7 1026.9 911 1029.3 910.5 C1031.8 910.1 1033.9 909 1034.8 908.7" fill="none" stroke="#1d1d1b" stroke-width="1.2" stroke-linecap="round" stroke-linejoin="round" />
<path d="M1053.9 1115.9 C1053.8 1117.7 1053.8 1122.5 1053 1126.8 C1052.3 1131 1050 1138.8 1049.4 1141.2" fill="none" stroke="#1d1d1b" stroke-width="1.2" stroke-linecap="round" stroke-linejoin="round" />
<path d="M1108.2 1090.5 L1104.6 1108.6" fill="none" stroke="#1d1d1b" stroke-width="1.2" stroke-linecap="round" stroke-linejoin="round" />
<path d="M1220.6 940.5 C1220.8 938.6 1221.1 936.5 1222.4 935.1 C1223.8 933.7 1225.3 931.9 1229.7 931.1 C1234 930.3 1243 930.3 1251.4 929.7 C1259.8 929 1275.2 928.2 1285.8 927 C1296.4 925.7 1311.2 923.6 1322 921.5 C1332.9 919.5 1348.7 915 1358.2 913.4 C1367.7 911.7 1378.6 911.1 1385.4 910.7 C1392.2 910.3 1399.4 911.1 1403.5 910.7 C1407.6 910.3 1410.1 908.5 1412.6 907.9 C1415 907.4 1417.9 906.8 1419.8 907 C1421.7 907.3 1424 907.4 1425.2 909.8 C1426.5 912.1 1426.9 917.3 1428 922.4 C1429 927.6 1431.1 936.6 1432.5 944.2 C1433.8 951.8 1435.4 964.7 1437 973.1 C1438.6 981.6 1440.8 992.1 1443.3 1000.3 C1445.9 1008.4 1451 1019.6 1454.2 1027.5 C1457.5 1035.3 1461.8 1046 1465.1 1052.8 C1468.3 1059.6 1473.5 1068.1 1475.9 1072.7 C1478.4 1077.3 1480.2 1080.6 1481.4 1083.6 C1482.5 1086.6 1483.4 1090.2 1483.5 1092.6 C1483.7 1095.1 1483.4 1098.7 1482.3 1099.9 C1481.1 1101.1 1478.5 1101.2 1475.9 1100.8 C1473.4 1100.4 1468.3 1097.5 1465.1 1097.2 C1461.8 1096.8 1457.5 1098.5 1454.2 1098.4 C1451 1098.4 1446.6 1096.6 1443.3 1096.6 C1440.1 1096.6 1436.3 1097.8 1432.5 1098.4 C1428.7 1099.1 1422.3 1100.4 1418 1100.8 C1413.6 1101.2 1408.4 1101.3 1403.5 1101.3 C1398.6 1101.3 1390.8 1100.7 1385.4 1100.8 C1380 1100.9 1372.7 1101.5 1367.3 1102.2 C1361.9 1103 1356 1104.4 1349.2 1105.7 C1342.4 1107 1330.2 1109.3 1322 1110.8 C1313.9 1112.2 1301.7 1114.2 1294.9 1115.3 C1288.1 1116.3 1280.8 1117.4 1276.8 1117.6 C1272.7 1117.9 1269.7 1117.8 1267.7 1117.1 C1265.7 1116.3 1264.1 1114.6 1263.2 1112.6 C1262.2 1110.5 1261.5 1105.7 1261.4 1103.5 C1261.2 1101.3 1262.7 1103.5 1262.3 1098.1 C1261.9 1092.6 1260.1 1076.3 1258.6 1067.3 C1257.2 1058.3 1253.5 1044.8 1252.3 1038.3 C1251.1 1031.8 1251.4 1028.5 1250.5 1023.8 C1249.5 1019.2 1248 1013.5 1246 1007.5 C1243.9 1001.6 1239.6 990.8 1236.9 984 C1234.2 977.2 1230.2 967.7 1227.9 962.3 C1225.6 956.8 1222.6 951 1221.5 947.8 C1220.4 944.5 1220.5 942.4 1220.6 940.5Z" fill="#fff" stroke="#1d1d1b" stroke-width="1.2" stroke-linejoin="round" stroke-linecap="round"/>
<path d="M1226.1 937.8 C1227.9 941.3 1233.6 951.6 1236.9 958.6 C1240.2 965.7 1243.6 973.7 1246 980.4 C1248.4 987 1249.6 990.8 1251.4 998.5 C1253.2 1006.2 1255.9 1021.9 1256.8 1026.6" fill="none" stroke="#1d1d1b" stroke-width="1.2" stroke-linecap="round" stroke-linejoin="round" />
<path d="M1250.5 934.2 C1254.3 934.7 1264.8 936.5 1273.1 936.9 C1281.4 937.3 1295.8 936.6 1300.3 936.6" fill="none" stroke="#1d1d1b" stroke-width="1.2" stroke-linecap="round" stroke-linejoin="round" />
<path d="M1356.4 925.1 C1360.7 924.1 1373.9 919.7 1381.8 918.8 C1389.6 917.9 1398.7 919.9 1403.5 919.7 C1408.3 919.6 1409.5 918.2 1410.8 917.9" fill="none" stroke="#1d1d1b" stroke-width="1.2" stroke-linecap="round" stroke-linejoin="round" />
<path d="M1428.9 951.4 C1429 955.6 1428.9 968.6 1429.8 976.8 C1430.7 984.9 1431.4 992.1 1434.3 1000.3 C1437.2 1008.4 1442.6 1017.3 1447 1025.6 C1451.3 1033.9 1458.3 1046 1460.5 1050.1" fill="none" stroke="#1d1d1b" stroke-width="1.2" stroke-linecap="round" stroke-linejoin="round" />
<path d="M1042 964.9 C1042.2 962.8 1043 961.6 1046.6 960.3 C1050.1 959.1 1059.5 957.7 1065.6 956.7 C1071.7 955.7 1080 955.1 1087.3 953.6 C1094.6 952.1 1107.7 948.9 1114.5 946.8 C1121.2 944.6 1128.8 941.7 1132.6 939.5 C1136.4 937.3 1138.2 933.9 1139.8 932.3 C1141.4 930.6 1141.5 928.6 1143.4 928.6 C1145.3 928.6 1145.1 926 1152.5 932.3 C1159.8 938.5 1181.7 959.7 1192.3 970.3 C1202.9 980.9 1214.4 993.1 1223.1 1002.9 C1231.8 1012.7 1243.8 1027.5 1250.3 1035.5 C1256.7 1043.5 1262.2 1051.4 1265.9 1056.4 C1269.6 1061.5 1273.2 1065.6 1274.9 1069.1 C1276.7 1072.6 1277.7 1076.7 1277.7 1080 C1277.7 1083.2 1276.4 1088.5 1274.9 1090.8 C1273.4 1093.1 1269.7 1094.4 1267.7 1095.4 C1265.7 1096.3 1263 1096.1 1261.4 1097.2 C1259.7 1098.3 1260 1100.6 1256.8 1102.6 C1253.7 1104.6 1245.7 1107.9 1240.5 1110.8 C1235.4 1113.6 1227.9 1117.8 1222.4 1121.6 C1217 1125.4 1208.4 1133.1 1204.3 1136.1 C1200.2 1139.1 1198 1140.3 1195.3 1141.5 C1192.6 1142.8 1189.8 1144.6 1186.2 1144.3 C1182.7 1143.9 1176 1140.8 1171.6 1139.4 C1167.3 1138 1160.7 1136.5 1157.1 1134.9 C1153.6 1133.3 1150.2 1130.9 1148.1 1128.6 C1145.9 1126.3 1144.8 1122.8 1142.6 1119.5 C1140.5 1116.3 1138.8 1114.4 1133.6 1106.8 C1128.4 1099.2 1116.1 1081 1108.2 1068.8 C1100.4 1056.6 1087.9 1035.7 1081.1 1025.4 C1074.3 1015 1068.3 1007.7 1063 1000 C1057.7 992.3 1048.8 979.2 1045.6 973.9 C1042.5 968.6 1041.9 966.9 1042 964.9Z" fill="#fff" stroke="#1d1d1b" stroke-width="1.2" stroke-linejoin="round" stroke-linecap="round"/>
<path d="M1049.3 963.1 C1049.6 964.3 1047.8 964.9 1051.1 970.3 C1054.4 975.7 1060.1 983 1069.2 995.6 C1078.2 1008.3 1093.3 1029.7 1105.4 1046.3 C1117.5 1062.9 1133.6 1085.8 1141.6 1095.2 C1149.6 1104.7 1148.5 1100.8 1153.5 1103.2 C1158.5 1105.6 1168.6 1108.5 1171.6 1109.6" fill="none" stroke="#1d1d1b" stroke-width="1.2" stroke-linecap="round" stroke-linejoin="round" />
<path d="M1180.7 1096.9 L1176.1 1106.8" fill="none" stroke="#1d1d1b" stroke-width="1.2" stroke-linecap="round" stroke-linejoin="round" />
<path d="M1170.7 1114.1 C1170.6 1115.3 1169.1 1118.6 1169.8 1121.3 C1170.6 1124 1173.1 1127.7 1175.2 1130.4 C1177.4 1133.1 1180.4 1135.2 1182.5 1137.6 C1184.6 1140 1187 1143.7 1187.9 1144.9" fill="none" stroke="#1d1d1b" stroke-width="1.2" stroke-linecap="round" stroke-linejoin="round" />
<path d="M1180.8 1096.6 L1176.3 1105.3" fill="none" stroke="#1d1d1b" stroke-width="1.2" stroke-linecap="round" stroke-linejoin="round" />
<path d="M1150 1098.1 C1151.8 1099.3 1157.4 1103.5 1160.9 1105.3 C1164.3 1107.1 1169.2 1108.3 1170.8 1108.9" fill="none" stroke="#1d1d1b" stroke-width="1.2" stroke-linecap="round" stroke-linejoin="round" />
<path d="M1170.8 1115.3 C1170.6 1116.6 1168.8 1120.6 1169.6 1123.4 C1170.3 1126.3 1172.9 1129.2 1175.4 1132.5 C1177.8 1135.8 1182.9 1141.5 1184.4 1143.3" fill="none" stroke="#1d1d1b" stroke-width="1.2" stroke-linecap="round" stroke-linejoin="round" />
<rect x="1538.2" y="522" width="13.5" height="26" rx="6.8" ry="5.7" fill="#fff" stroke="#1d1d1b" stroke-width="1.3" transform="rotate(-10 1545 535)"/>
<path d="M1077.7 1355.7 L1094 1373.8" fill="none" stroke="#1d1d1b" stroke-width="1.2" stroke-linecap="butt" stroke-linejoin="round" />
<path d="M1113.9 1374.7 C1118.4 1376.4 1130.5 1381.4 1141.1 1384.7 C1151.6 1388 1171.3 1393 1177.3 1394.7" fill="none" stroke="#1d1d1b" stroke-width="1.2" stroke-linecap="butt" stroke-linejoin="round" />
<path d="M1204.5 1400.1 C1207.5 1400.5 1216.2 1401.7 1222.6 1402.4 C1228.9 1403.2 1239.2 1404.3 1242.5 1404.6" fill="none" stroke="#1d1d1b" stroke-width="1.2" stroke-linecap="butt" stroke-linejoin="round" />
<path d="M1372.3 1404.6 L1408.5 1400.1" fill="none" stroke="#1d1d1b" stroke-width="1.2" stroke-linecap="butt" stroke-linejoin="round" />
<path d="M1432 1394.7 C1439.6 1392.4 1465.8 1384.7 1477.3 1381.1 C1488.8 1377.5 1496.9 1374.3 1500.8 1372.9" fill="none" stroke="#1d1d1b" stroke-width="1.2" stroke-linecap="butt" stroke-linejoin="round" />
<path d="M1511.7 1372 L1535.2 1353.9" fill="none" stroke="#1d1d1b" stroke-width="1.2" stroke-linecap="butt" stroke-linejoin="round" />
<path d="M1262.3 1406.4 L1351.6 1406.4" fill="none" stroke="#1d1d1b" stroke-width="1.2" stroke-linecap="butt" stroke-linejoin="round" />
<path d="M1093.1 1371.1 L1097.6 1367.5" fill="none" stroke="#1d1d1b" stroke-width="1.2" stroke-linecap="butt" stroke-linejoin="round" />
<path d="M1217.1 1411 L1226.2 1402.8" fill="none" stroke="#1d1d1b" stroke-width="1.2" stroke-linecap="butt" stroke-linejoin="round" />
<path d="M1228 1410 L1237 1403.7" fill="none" stroke="#1d1d1b" stroke-width="1.2" stroke-linecap="butt" stroke-linejoin="round" />
<path d="M1377.7 1403.7 L1384.9 1411" fill="none" stroke="#1d1d1b" stroke-width="1.2" stroke-linecap="butt" stroke-linejoin="round" />
<path d="M1386.8 1402.8 L1394 1409.1" fill="none" stroke="#1d1d1b" stroke-width="1.2" stroke-linecap="butt" stroke-linejoin="round" />
<path d="M989.4 1219 L1030 1299" fill="none" stroke="#1d1d1b" stroke-width="9.9" stroke-linecap="butt" stroke-linejoin="round"/>
<path d="M989.4 1219 L1030 1299" fill="none" stroke="#fff" stroke-width="7.3" stroke-linecap="butt" stroke-linejoin="round"/>
<path d="M1029.7 1300.5 L1088 1372 Q1095.8 1381.5 1104 1376 L1120 1364.8 Q1128.4 1359 1137 1364.3 L1175 1388 C1195 1400.5 1205 1416.8 1220.8 1416.8 C1248.7 1416.8 1277.4 1380.6 1305.3 1380.6 C1332.2 1380.6 1359.9 1416.2 1386.8 1416.2 C1404 1416.2 1420 1394.5 1440 1382 L1470 1363.5 Q1479.1 1357.9 1488 1362.4 L1510 1373.5 Q1519 1378 1525.4 1370.3 L1574 1312 Q1580.5 1304.1 1585 1295.3 L1627.6 1212.7" fill="none" stroke="#1d1d1b" stroke-width="10.3" stroke-linecap="round" stroke-linejoin="round"/>
<path d="M1029.7 1300.5 L1088 1372 Q1095.8 1381.5 1104 1376 L1120 1364.8 Q1128.4 1359 1137 1364.3 L1175 1388 C1195 1400.5 1205 1416.8 1220.8 1416.8 C1248.7 1416.8 1277.4 1380.6 1305.3 1380.6 C1332.2 1380.6 1359.9 1416.2 1386.8 1416.2 C1404 1416.2 1420 1394.5 1440 1382 L1470 1363.5 Q1479.1 1357.9 1488 1362.4 L1510 1373.5 Q1519 1378 1525.4 1370.3 L1574 1312 Q1580.5 1304.1 1585 1295.3 L1627.6 1212.7" fill="none" stroke="#fff" stroke-width="7.7" stroke-linecap="round" stroke-linejoin="round"/>
<path d="M1098.1 1260.2 L1130.2 1355" fill="none" stroke="#1d1d1b" stroke-width="9.9" stroke-linecap="round" stroke-linejoin="round"/>
<path d="M1098.1 1260.2 L1130.2 1355" fill="none" stroke="#fff" stroke-width="7.3" stroke-linecap="round" stroke-linejoin="round"/>
<path d="M1510.8 1261.6 L1479.6 1356.2" fill="none" stroke="#1d1d1b" stroke-width="9.9" stroke-linecap="round" stroke-linejoin="round"/>
<path d="M1510.8 1261.6 L1479.6 1356.2" fill="none" stroke="#fff" stroke-width="7.3" stroke-linecap="round" stroke-linejoin="round"/>
<path d="M1304.3 1280 L1305.3 1377.5" fill="none" stroke="#1d1d1b" stroke-width="10.7" stroke-linecap="round" stroke-linejoin="round"/>
<path d="M1304.3 1280 L1305.3 1377.5" fill="none" stroke="#fff" stroke-width="8.1" stroke-linecap="round" stroke-linejoin="round"/>
<path d="M957.2 1081 L957.4 1082.7 L957.6 1084.8 L957.9 1087.3 L958.3 1090 L958.7 1093 L959 1096.2 L959.5 1099.5 L959.9 1102.9 L960.3 1106.4 L960.8 1109.8 L961.2 1113.2 L961.6 1116.4 L962 1119.6 L962.4 1122.8 L962.9 1126.2 L963.3 1129.6 L963.7 1133 L964.2 1136.5 L964.6 1139.9 L965.1 1143.3 L965.6 1146.7 L966 1150 L966.5 1153.2 L966.9 1156.2 L967.4 1159.3 L967.8 1162.3 L968.3 1165.3 L968.7 1168.3 L969.2 1171.3 L969.6 1174.1 L970.1 1176.9 L970.6 1179.6 L971 1182.2 L971.5 1184.7 L971.9 1187 L972.4 1189.1 L972.8 1191.1 L973.2 1192.8 L973.7 1194.5 L974.1 1195.9 L974.5 1197.3 L974.9 1198.6 L975.3 1199.8 L975.8 1201 L976.3 1202.1 L976.8 1203.2 L977.4 1204.3 L978 1205.5 L978.6 1206.6 L979.3 1207.8 L980 1208.9 L980.7 1209.9 L981.5 1211 L982.2 1212 L983.1 1212.9 L983.9 1213.9 L984.8 1214.9 L985.7 1215.8 L986.7 1216.7 L987.7 1217.7 L988.7 1218.6 L989.8 1219.5 L990.9 1220.5 L992 1221.4 L993.2 1222.3 L994.5 1223.2 L995.7 1224 L997 1224.9 L998.4 1225.8 L999.8 1226.7 L1001.3 1227.6 L1002.8 1228.4 L1004.3 1229.3 L1005.6 1230 L1007 1230.8 L1008.4 1231.6 L1009.8 1232.4 L1011.4 1233.2 L1013.1 1234 L1015 1234.9 L1017.1 1235.8 L1019.5 1236.8 L1022.2 1237.8 L1025.2 1239 L1028.5 1240.2 L1032.2 1241.5 L1036.1 1242.9 L1040.2 1244.4 L1044.7 1245.9 L1049.3 1247.5 L1054.1 1249 L1059 1250.6 L1064.1 1252.2 L1069.3 1253.7 L1074.6 1255.1 L1079.9 1256.5 L1085.4 1257.8 L1091 1259.1 L1096.9 1260.4 L1102.9 1261.6 L1109 1262.9 L1115.2 1264.1 L1121.5 1265.2 L1127.8 1266.4 L1134.1 1267.5 L1140.4 1268.5 L1146.6 1269.6 L1152.7 1270.5 L1158.9 1271.5 L1165.3 1272.4 L1171.8 1273.2 L1178.4 1274 L1185 1274.8 L1191.5 1275.6 L1197.9 1276.3 L1204.1 1277 L1210 1277.6 L1215.5 1278.1 L1220.7 1278.6 L1225.4 1279.1 L1229.6 1279.5 L1233.4 1279.7 L1236.7 1280 L1239.6 1280.1 L1242.3 1280.2 L1244.9 1280.3 L1247.2 1280.4 L1249.5 1280.4 L1251.9 1280.4 L1254.3 1280.5 L1256.9 1280.5 L1259.8 1280.6 L1263 1280.7 L1266.2 1280.8 L1269.6 1280.9 L1273 1281 L1276.5 1281.2 L1280 1281.3 L1283.4 1281.4 L1286.9 1281.4 L1290.3 1281.5 L1293.6 1281.6 L1296.8 1281.7 L1299.9 1281.7 L1302.8 1281.7 L1305.5 1281.8 L1308 1281.8 L1310.5 1281.9 L1312.9 1281.9 L1315.3 1281.9 L1317.8 1281.9 L1320.3 1281.9 L1323 1281.8 L1326 1281.7 L1329.1 1281.6 L1332.6 1281.5 L1336.4 1281.3 L1340.5 1281.1 L1344.7 1280.9 L1349.2 1280.6 L1353.8 1280.4 L1358.6 1280.1 L1363.4 1279.8 L1368.2 1279.4 L1373.1 1279.1 L1377.9 1278.7 L1382.6 1278.3 L1387.3 1277.9 L1391.7 1277.5 L1396.1 1277.1 L1400.5 1276.6 L1404.8 1276.2 L1409.1 1275.7 L1413.4 1275.3 L1417.8 1274.7 L1422.3 1274.2 L1426.9 1273.6 L1431.7 1273 L1436.7 1272.3 L1441.8 1271.5 L1447.3 1270.7 L1453.1 1269.9 L1459.1 1269 L1465.3 1268 L1471.7 1267 L1478.1 1266 L1484.5 1264.9 L1490.9 1263.8 L1497.2 1262.7 L1503.2 1261.6 L1509.1 1260.4 L1514.6 1259.3 L1519.9 1258.1 L1525 1256.9 L1530 1255.7 L1534.9 1254.4 L1539.7 1253.1 L1544.3 1251.8 L1548.8 1250.5 L1553.2 1249.2 L1557.4 1247.9 L1561.5 1246.6 L1565.5 1245.4 L1569.4 1244.2 L1573.1 1242.9 L1576.7 1241.7 L1580.2 1240.5 L1583.6 1239.3 L1586.8 1238.2 L1590 1237 L1593 1235.8 L1595.9 1234.6 L1598.6 1233.5 L1601.3 1232.3 L1603.8 1231.1 L1606.3 1230 L1608.7 1228.7 L1610.9 1227.4 L1613.1 1226.1 L1615.1 1224.8 L1616.9 1223.5 L1618.6 1222.2 L1620.2 1221 L1621.6 1219.8 L1622.8 1218.8 L1623.9 1218 L1624.8 1217.3 L1625.5 1216.7 A5.1 5.1 0 0 0 1619.5 1208.5 L1618.6 1209.2 L1617.5 1210 L1616.4 1210.9 L1615.2 1211.9 L1613.8 1213 L1612.4 1214.1 L1610.9 1215.2 L1609.3 1216.4 L1607.5 1217.5 L1605.7 1218.7 L1603.8 1219.8 L1601.7 1220.8 L1599.5 1221.9 L1597.1 1223 L1594.6 1224.1 L1592 1225.2 L1589.2 1226.3 L1586.3 1227.5 L1583.3 1228.6 L1580.1 1229.7 L1576.9 1230.9 L1573.5 1232.1 L1569.9 1233.3 L1566.2 1234.4 L1562.4 1235.7 L1558.5 1236.9 L1554.4 1238.2 L1550.2 1239.4 L1545.9 1240.7 L1541.5 1242 L1537 1243.3 L1532.3 1244.5 L1527.5 1245.8 L1522.6 1247 L1517.6 1248.2 L1512.4 1249.3 L1507 1250.4 L1501.3 1251.6 L1495.3 1252.7 L1489.2 1253.8 L1482.9 1254.9 L1476.5 1255.9 L1470.1 1256.9 L1463.8 1257.9 L1457.6 1258.9 L1451.6 1259.8 L1445.8 1260.7 L1440.4 1261.5 L1435.2 1262.2 L1430.3 1262.9 L1425.6 1263.5 L1421 1264.1 L1416.6 1264.6 L1412.2 1265.1 L1408 1265.6 L1403.7 1266 L1399.5 1266.5 L1395.2 1266.9 L1390.8 1267.3 L1386.3 1267.7 L1381.8 1268.1 L1377.1 1268.5 L1372.3 1268.9 L1367.5 1269.2 L1362.7 1269.6 L1357.9 1269.9 L1353.2 1270.2 L1348.6 1270.5 L1344.2 1270.7 L1339.9 1270.9 L1335.9 1271.1 L1332.2 1271.3 L1328.8 1271.4 L1325.7 1271.5 L1322.8 1271.6 L1320.2 1271.7 L1317.7 1271.7 L1315.3 1271.7 L1313 1271.7 L1310.6 1271.7 L1308.2 1271.6 L1305.7 1271.6 L1303 1271.5 L1300.1 1271.5 L1297 1271.5 L1293.8 1271.4 L1290.5 1271.3 L1287.1 1271.2 L1283.7 1271.2 L1280.3 1271.1 L1276.8 1271 L1273.3 1270.8 L1269.9 1270.7 L1266.6 1270.6 L1263.3 1270.5 L1260.2 1270.4 L1257.2 1270.3 L1254.5 1270.3 L1252 1270.2 L1249.7 1270.2 L1247.4 1270.2 L1245.1 1270.1 L1242.7 1270 L1240.1 1269.9 L1237.3 1269.8 L1234.1 1269.6 L1230.5 1269.3 L1226.4 1268.9 L1221.7 1268.5 L1216.6 1268 L1211 1267.4 L1205.1 1266.8 L1199 1266.2 L1192.7 1265.5 L1186.2 1264.7 L1179.7 1263.9 L1173.1 1263.1 L1166.7 1262.3 L1160.4 1261.4 L1154.3 1260.5 L1148.2 1259.5 L1142 1258.5 L1135.8 1257.5 L1129.6 1256.5 L1123.3 1255.4 L1117.1 1254.2 L1110.9 1253.1 L1104.9 1251.9 L1099 1250.7 L1093.2 1249.4 L1087.6 1248.2 L1082.3 1246.9 L1077.1 1245.6 L1071.9 1244.2 L1066.9 1242.8 L1061.9 1241.3 L1057 1239.8 L1052.3 1238.3 L1047.8 1236.8 L1043.4 1235.3 L1039.3 1233.9 L1035.4 1232.5 L1031.7 1231.2 L1028.4 1230 L1025.5 1229 L1022.9 1228 L1020.7 1227.2 L1018.7 1226.4 L1017 1225.6 L1015.4 1224.9 L1014 1224.2 L1012.7 1223.5 L1011.4 1222.8 L1010.1 1222.1 L1008.7 1221.4 L1007.2 1220.6 L1005.7 1219.8 L1004.4 1219 L1003.1 1218.2 L1001.8 1217.5 L1000.6 1216.7 L999.4 1216 L998.3 1215.2 L997.3 1214.4 L996.2 1213.7 L995.2 1212.9 L994.3 1212.1 L993.3 1211.3 L992.4 1210.5 L991.6 1209.7 L990.8 1209 L990 1208.2 L989.3 1207.5 L988.6 1206.7 L988 1205.9 L987.4 1205.1 L986.7 1204.3 L986.2 1203.4 L985.6 1202.5 L985 1201.5 L984.5 1200.6 L984 1199.6 L983.5 1198.7 L983.1 1197.8 L982.6 1196.9 L982.3 1195.9 L981.9 1194.9 L981.5 1193.7 L981.1 1192.4 L980.7 1190.9 L980.3 1189.3 L979.8 1187.5 L979.4 1185.4 L978.9 1183.2 L978.4 1180.9 L978 1178.3 L977.5 1175.7 L977.1 1172.9 L976.6 1170.1 L976.1 1167.2 L975.7 1164.2 L975.2 1161.2 L974.7 1158.2 L974.3 1155.2 L973.8 1152.1 L973.3 1148.9 L972.9 1145.6 L972.4 1142.3 L971.9 1138.9 L971.5 1135.5 L971 1132 L970.6 1128.6 L970.1 1125.2 L969.7 1121.9 L969.2 1118.6 L968.8 1115.4 L968.4 1112.2 L967.9 1108.9 L967.5 1105.5 L967 1102 L966.6 1098.6 L966.2 1095.3 L965.8 1092.1 L965.4 1089.1 L965 1086.4 L964.7 1083.9 L964.4 1081.8 L964.2 1080.2 A3.6 3.6 0 0 0 957.2 1081 Z" fill="#fff" stroke="#1d1d1b" stroke-width="1.3" stroke-linejoin="round"/>
<path d="M1081.5 520.5 L1014.7 840 L985.5 985" fill="none" stroke="#1d1d1b" stroke-width="11.7" stroke-linecap="butt" stroke-linejoin="round"/>
<path d="M1081.5 520.5 L1014.7 840 L985.5 985" fill="none" stroke="#fff" stroke-width="9.1" stroke-linecap="butt" stroke-linejoin="round"/>
<path d="M987.3 1005.4 L1015 1111.9 Q1016.5 1117.7 1015.5 1123.6 L1000.1 1210" fill="none" stroke="#1d1d1b" stroke-width="8.9" stroke-linecap="round" stroke-linejoin="round"/>
<path d="M987.3 1005.4 L1015 1111.9 Q1016.5 1117.7 1015.5 1123.6 L1000.1 1210" fill="none" stroke="#fff" stroke-width="6.3" stroke-linecap="round" stroke-linejoin="round"/>
<path d="M977.3 1010.6 L961 1077" fill="none" stroke="#1d1d1b" stroke-width="8.5" stroke-linecap="butt" stroke-linejoin="round"/>
<path d="M977.3 1010.6 L961 1077" fill="none" stroke="#fff" stroke-width="5.9" stroke-linecap="butt" stroke-linejoin="round"/>
<ellipse cx="978.6" cy="1000.2" rx="7.5" ry="9.5" fill="#fff" stroke="#1d1d1b" stroke-width="1.3"/>
<ellipse cx="982" cy="989.5" rx="9.5" ry="7" fill="#fff" stroke="#1d1d1b" stroke-width="1.3" transform="rotate(25 982 989.5)"/>
<ellipse cx="978.6" cy="1000.2" rx="4.3" ry="6.3" fill="none" stroke="#1d1d1b" stroke-width="1.3"/>
<path d="M1514 527.3 L1584.4 841.3 L1621.8 993.8 L1627.3 973.9 L1596 838.7 L1525.6 524.7Z" fill="#fff" stroke="none"/>
<path d="M1514 527.3 L1584.4 841.3 L1621.8 993.8" fill="none" stroke="#1d1d1b" stroke-width="1.3" stroke-linecap="butt" stroke-linejoin="round" />
<path d="M1525.6 524.7 L1596 838.7 L1627.3 973.9" fill="none" stroke="#1d1d1b" stroke-width="1.3" stroke-linecap="butt" stroke-linejoin="round" />
<path d="M1541.5 542.2 L1610.1 840 L1639 960.5" fill="none" stroke="#1d1d1b" stroke-width="11.7" stroke-linecap="butt" stroke-linejoin="round"/>
<path d="M1541.5 542.2 L1610.1 840 L1639 960.5" fill="none" stroke="#fff" stroke-width="9.1" stroke-linecap="butt" stroke-linejoin="round"/>
<path d="M1567.5 936.6 L1569 923.5 L1573.3 916.2 L1577.7 934.3" fill="#fff" stroke="#1d1d1b" stroke-width="1.3" stroke-linejoin="round" stroke-linecap="round"/>
<path d="M1572.9 946.8 L1602.1 1033.9 Q1604.6 1041.5 1608.1 1034.3 L1640.8 966" fill="none" stroke="#1d1d1b" stroke-width="9.3" stroke-linecap="round" stroke-linejoin="round"/>
<path d="M1572.9 946.8 L1602.1 1033.9 Q1604.6 1041.5 1608.1 1034.3 L1640.8 966" fill="none" stroke="#fff" stroke-width="6.7" stroke-linecap="round" stroke-linejoin="round"/>
<path d="M1565.7 938.6 C1567.2 937.5 1574.9 934.4 1576.6 935.3 C1578.2 936.3 1580 944.5 1580.2 946.8 C1580.4 949 1579.4 953.3 1578.4 954.4 C1577.3 955.5 1572.8 957.3 1571.1 956.2 C1569.4 955.1 1564.5 947 1563.9 944.9 C1563.2 942.9 1564.2 939.7 1565.7 938.6Z" fill="#fff" stroke="#1d1d1b" stroke-width="1.3" stroke-linejoin="round" stroke-linecap="round"/>
<path d="M1640.8 973.9 L1649 1079" fill="none" stroke="#1d1d1b" stroke-width="8.7" stroke-linecap="round" stroke-linejoin="round"/>
<path d="M1640.8 973.9 L1649 1079" fill="none" stroke="#fff" stroke-width="6.1" stroke-linecap="round" stroke-linejoin="round"/>
<path d="M1648.2 1072 L1641.6 998 Q1640.6 991.5 1638.6 998 L1612.4 1114 Q1611.4 1118.4 1611.9 1122.5 L1624.3 1208" fill="none" stroke="#1d1d1b" stroke-width="8.7" stroke-linecap="round" stroke-linejoin="round"/>
<path d="M1648.2 1072 L1641.6 998 Q1640.6 991.5 1638.6 998 L1612.4 1114 Q1611.4 1118.4 1611.9 1122.5 L1624.3 1208" fill="none" stroke="#fff" stroke-width="6.1" stroke-linecap="round" stroke-linejoin="round"/>
<path d="M1649.5 1084 L1632.8 1209" fill="none" stroke="#1d1d1b" stroke-width="9.7" stroke-linecap="round" stroke-linejoin="round"/>
<path d="M1649.5 1084 L1632.8 1209" fill="none" stroke="#fff" stroke-width="7.1" stroke-linecap="round" stroke-linejoin="round"/>
<path d="M1634.5 960.9 C1635.7 959 1640.5 957 1642.6 957.1 C1644.8 957.2 1646.6 959.4 1647.2 961.6 C1647.8 963.8 1647.6 968.4 1646.3 970.3 C1644.9 972.2 1640.8 973.3 1639 973 C1637.2 972.7 1636.2 970.5 1635.4 968.5 C1634.6 966.5 1633.3 962.8 1634.5 960.9Z" fill="#fff" stroke="#1d1d1b" stroke-width="1.3" stroke-linejoin="round" stroke-linecap="round"/>
<path d="M1469.1 212.3 L1879.1 193.5" fill="none" stroke="#1d1d1b" stroke-width="1.4" stroke-linecap="butt" stroke-linejoin="round" />
<path d="M1864.6 194.2 L1872.2 676" fill="none" stroke="#1d1d1b" stroke-width="1.4" stroke-linecap="butt" stroke-linejoin="round" />
<path d="M1873.8 825 L1882 1324.5" fill="none" stroke="#1d1d1b" stroke-width="1.4" stroke-linecap="butt" stroke-linejoin="round" />
<path d="M1475.3 1419.1 L1898 1319.9" fill="none" stroke="#1d1d1b" stroke-width="1.4" stroke-linecap="butt" stroke-linejoin="round" />
<path d="M770.9 1235 L770.9 1653" fill="none" stroke="#1d1d1b" stroke-width="1.4" stroke-linecap="butt" stroke-linejoin="round" />
<path d="M1842.9 1235 L1842.9 1653" fill="none" stroke="#1d1d1b" stroke-width="1.4" stroke-linecap="butt" stroke-linejoin="round" />
<path d="M770.9 1634.6 L1247.9 1634.6" fill="none" stroke="#1d1d1b" stroke-width="1.4" stroke-linecap="butt" stroke-linejoin="round" />
<path d="M1402 1634.6 L1842.9 1634.6" fill="none" stroke="#1d1d1b" stroke-width="1.4" stroke-linecap="butt" stroke-linejoin="round" />
<path d="M563.4 932.2 L964.7 892.7" fill="none" stroke="#1d1d1b" stroke-width="1.4" stroke-linecap="butt" stroke-linejoin="round" />
<path d="M587.3 931 L597.8 1182.8" fill="none" stroke="#1d1d1b" stroke-width="1.4" stroke-linecap="butt" stroke-linejoin="round" />
<path d="M603.2 1303.3 L616.6 1628.5" fill="none" stroke="#1d1d1b" stroke-width="1.4" stroke-linecap="butt" stroke-linejoin="round" />
<path d="M597 1634 L942.6 1535.4" fill="none" stroke="#1d1d1b" stroke-width="1.4" stroke-linecap="butt" stroke-linejoin="round" />
<path d="M684.7 1028.2 L964.7 993.4" fill="none" stroke="#1d1d1b" stroke-width="1.4" stroke-linecap="butt" stroke-linejoin="round" />
<path d="M706.4 1026 L718.4 1237.9" fill="none" stroke="#1d1d1b" stroke-width="1.4" stroke-linecap="butt" stroke-linejoin="round" />
<path d="M723.8 1338 L738.3 1593.4" fill="none" stroke="#1d1d1b" stroke-width="1.4" stroke-linecap="butt" stroke-linejoin="round" />
<path d="M880.3 1205.6 L942.6 1195.1" fill="none" stroke="#1d1d1b" stroke-width="1.4" stroke-linecap="butt" stroke-linejoin="round" />
<path d="M897.7 1203.5 L904.8 1308.3" fill="none" stroke="#1d1d1b" stroke-width="1.4" stroke-linecap="butt" stroke-linejoin="round" />
<path d="M911.8 1409.4 L920.9 1540.8" fill="none" stroke="#1d1d1b" stroke-width="1.4" stroke-linecap="butt" stroke-linejoin="round" />
<path d="M1004.2 1412.6 L1112.1 1388.4" fill="none" stroke="#1d1d1b" stroke-width="1.4" stroke-linecap="butt" stroke-linejoin="round" />
<path d="M1017.2 1411.2 L1023 1516.2" fill="none" stroke="#1d1d1b" stroke-width="1.4" stroke-linecap="butt" stroke-linejoin="round" />
<text transform="translate(1821.3 778.3) scale(0.7730 1)" font-family="'Liberation Sans', Arial, sans-serif" font-size="80" fill="#111" stroke="#111" stroke-width="0.5">238</text>
<text transform="translate(1259.7 1663) scale(0.8700 1)" x="-6 38.1 85" font-family="'Liberation Sans', Arial, sans-serif" font-size="80" fill="#111" stroke="#111" stroke-width="0.5">174</text>
<rect x="1258.2" y="1655.2" width="13.5" height="10" fill="#fff"/>
<rect x="1278.4" y="1655.2" width="13.3" height="10" fill="#fff"/>
<text transform="translate(540.6 1278) scale(0.7792 1)" font-family="'Liberation Sans', Arial, sans-serif" font-size="80" fill="#111" stroke="#111" stroke-width="0.5">107</text>
<rect x="543.8" y="1270.2" width="12.2" height="10" fill="#fff"/>
<rect x="562.1" y="1270.2" width="12" height="10" fill="#fff"/>
<text transform="translate(687.2 1318.8) scale(0.7878 1)" font-family="'Liberation Sans', Arial, sans-serif" font-size="80" fill="#111" stroke="#111" stroke-width="0.5">93</text>
<text transform="translate(876.1 1390.5) scale(0.7866 1)" font-family="'Liberation Sans', Arial, sans-serif" font-size="80" fill="#111" stroke="#111" stroke-width="0.5">60</text>
<rect x="1037" y="1426" width="86" height="58" fill="#fff"/>
<text transform="translate(1040.1 1484) scale(0.7892 1)" font-family="'Liberation Sans', Arial, sans-serif" font-size="80" fill="#111" stroke="#111" stroke-width="0.5">25</text>
<text transform="translate(1255.2 1205.5) scale(0.7300 1)" x="-2 40.3 87.1 133.9" font-family="'Liberation Sans', Arial, sans-serif" font-size="80" fill="#111" stroke="#111" stroke-width="0.5">ø133</text>
<rect x="1287.5" y="1197.7" width="11.5" height="10" fill="#fff"/>
<rect x="1304.8" y="1197.7" width="11.4" height="10" fill="#fff"/>
</svg>
</body></html>
